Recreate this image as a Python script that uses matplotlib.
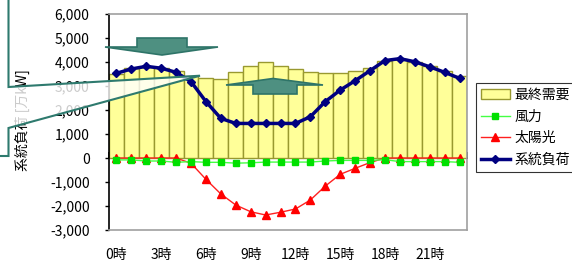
import matplotlib
matplotlib.use("Agg")
import matplotlib.pyplot as plt
from matplotlib.patches import Polygon
from matplotlib.ticker import FuncFormatter
import numpy as np

plt.rcParams['font.family'] = ['Noto Sans CJK JP', 'DejaVu Sans']

hours = list(range(24))
hour_labels = ['0時', '3時', '6時', '9時', '12時', '15時', '18時', '21時']
label_hours = [0, 3, 6, 9, 12, 15, 18, 21]

demand = [3500, 3740, 3800, 3740, 3640, 3420, 3320, 3280, 3570, 3850, 3990, 3850,
          3690, 3580, 3530, 3530, 3625, 3740, 4040, 4110, 4020, 3850, 3625, 3400]
wind = [-80, -80, -125, -125, -180, -150, -180, -180, -215, -200, -170, -170,
        -170, -170, -125, -100, -100, -100, -70, -150, -150, -150, -150, -180]
solar = [0, 0, 0, 0, 0, -220, -890, -1500, -1960, -2240, -2375, -2260,
         -2125, -1750, -1170, -680, -430, -190, 0, 0, 0, 0, 0, 0]
load = [3530, 3710, 3820, 3740, 3570, 3180, 2350, 1650, 1440, 1440, 1440, 1440,
        1440, 1720, 2350, 2830, 3220, 3640, 4060, 4140, 4010, 3800, 3570, 3320]

W, H = 572, 262
fig = plt.figure(figsize=(W / 100, H / 100), dpi=100)
ax = fig.add_axes([109 / W, 1 - 230 / H, 358 / W, 216 / H])

x = np.array(hours)
b = ax.bar(x, demand, width=1.0, color='#FFFF99', edgecolor='#999930', linewidth=1.0,
           label='最終需要', zorder=2)
ls, = ax.plot(x, solar, color='#FF2020', lw=1.0, marker='^', ms=6,
              mfc='#FF0000', mec='#FF0000', label='太陽光', zorder=4)
lw_, = ax.plot(x, wind, color='#44FF44', lw=1.0, marker='s', ms=5,
               mfc='#00E000', mec='#00E000', label='風力', zorder=5)
ll, = ax.plot(x, load, color='#000080', lw=2.5, marker='D', ms=4,
              mfc='#000080', mec='#000080', label='系統負荷', zorder=6)

ax.set_xlim(-0.5, 23.5)
ax.set_ylim(-3000, 6000)
ax.set_yticks(range(-3000, 6001, 1000))
ax.yaxis.set_major_formatter(FuncFormatter(lambda v, p: f"{int(v):,}"))
ax.tick_params(axis='y', direction='out', length=3, width=1, pad=11, labelsize=10)
ax.set_xticks(label_hours)
ax.set_xticklabels(hour_labels)
ax.tick_params(axis='x', length=0, pad=13, labelsize=10)

for s in ['top', 'right', 'bottom']:
    ax.spines[s].set_color('#A0A0A0')
    ax.spines[s].set_linewidth(1.2)
ax.spines['left'].set_color('black')
ax.spines['left'].set_linewidth(1.2)

# zero category axis with ticks
sec = ax.secondary_xaxis(1 / 3)
sec.set_xticks([h - 0.5 for h in range(0, 24, 3)] + [23.5])
sec.set_xticklabels([])
sec.tick_params(direction='in', length=4, width=1.2, color='black')
sec.spines['bottom'].set_color('black')
sec.spines['bottom'].set_linewidth(1.4)

fig.text(22 / W, 1 - 120 / H, '系統負荷 [万kW]', rotation=90, ha='center', va='center',
         fontsize=10)

leg = fig.legend(handles=[b, lw_, ls, ll], loc='upper left',
                 bbox_to_anchor=(476 / W, 1 - 83 / H), bbox_transform=fig.transFigure,
                 fontsize=10, frameon=True, fancybox=False, edgecolor='black',
                 handlelength=2.1, handletextpad=0.3, labelspacing=0.55,
                 borderaxespad=0, borderpad=0.35)
leg.get_frame().set_linewidth(0.8)


def P(pts):
    return [(px / W, 1 - py / H) for px, py in pts]


teal_fill = '#4E9081'
teal_edge = '#2E7468'
arrow1 = [(137, 38), (187, 38), (187, 47), (218, 47), (162, 55), (105, 47), (137, 47)]
arrow2 = [(253, 94), (297, 94), (297, 85), (323, 85), (273, 78.5), (226, 85), (253, 85)]
for pts in (arrow1, arrow2):
    fig.add_artist(Polygon(P(pts), closed=True, transform=fig.transFigure,
                           facecolor=teal_fill, edgecolor=teal_edge, lw=1.2, zorder=10))

callout = [(-5, -5), (8.5, -5), (8.5, 87), (200, 75.7), (8.5, 128), (8.5, 156), (-5, 156)]
fig.add_artist(Polygon(P(callout), closed=True, transform=fig.transFigure,
                       facecolor=(1, 1, 1, 0.8), edgecolor='#2E7A6E', lw=1.5, zorder=10))

fig.savefig('out.png', dpi=100)
